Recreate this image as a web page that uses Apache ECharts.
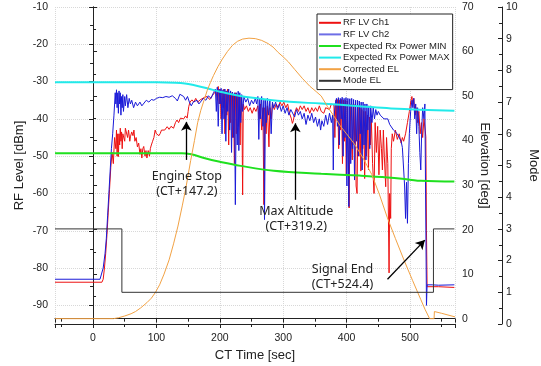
<!DOCTYPE html>
<html>
<head>
<meta charset="utf-8">
<script src="https://cdn.jsdelivr.net/npm/echarts@6/dist/echarts.min.js"></script>
<style>
html,body{margin:0;padding:0;background:#fff;}
#c{width:541px;height:366px;}
</style>
</head>
<body>
<div id="c"></div>
<script>
// ---- DATA ----
const seriesNames = ['RF LV Ch1','RF LV Ch2','Expected Rx Power MIN','Expected Rx Power MAX','Corrected EL','Mode EL'];

const ch1 = [[-60,-83.8],[14,-83.8],[16,-83],[18,-80],[20,-76],[22,-71],[24,-65],[26,-59],[28,-53],[30,-49],[32,-52],[34,-45],[36,-48],[37,-43],[38,-50],[39,-44],[40,-50.1],[41,-44],[42,-47],[43,-42.5],[44,-46],[45,-43.5],[46,-48],[47,-44],[48.5,-43.9],[50,-46],[51,-42.5],[53,-42],[54.5,-45],[56,-43],[58,-46],[59,-44.8],[61,-43.5],[63,-44.5],[64.5,-43],[66,-46],[68,-45],[70,-47.5],[72,-46.5],[74,-49.5],[75.5,-48],[77,-50.5],[78.5,-48],[80,-47.4],[82,-50],[83.5,-48.5],[85,-50.5],[87,-48.5],[89,-50],[90.5,-47.9],[92,-47],[94,-46],[96,-45],[98,-43],[100,-44],[102,-43.5],[104,-44.5],[106,-43.9],[108,-43],[110,-42.5],[113,-43],[117,-42.1],[120,-42.8],[123,-42],[127,-42.5],[130,-41],[132.5,-40.3],[135,-41],[138,-39.8],[140.5,-39.4],[143,-40],[146,-39.2],[148.5,-39.8],[150,-38],[151,-36.7],[153,-35.5],[156,-34.9],[159,-35.5],[162,-34.5],[165,-35.5],[169,-34.9],[172,-35.3],[176,-34.2],[180,-34],[184,-34.8],[188,-33.8],[191,-34],[194,-32.5],[196,-35],[197.5,-31.3],[199,-36],[200.5,-32],[202,-40],[203.5,-32.5],[205,-37],[206.5,-32],[208,-44],[209.5,-32.5],[211,-39],[212.5,-32],[214,-47],[215.5,-33],[217,-41],[218.5,-33],[220,-45],[221.5,-33.5],[223,-52],[224.5,-33],[226,-44],[227.5,-33.5],[229,-42],[230.5,-34],[232,-47],[233.5,-34],[235,-40],[236,-60.4],[237,-36],[239,-37.5],[242,-36.5],[245,-38],[248,-37],[251,-38.5],[254,-37],[257,-38],[260,-36.5],[262,-40],[264,-36],[266,-43],[268,-37],[269.5,-63],[271,-37],[273,-44],[275,-36.5],[277.5,-47.5],[279,-37],[281,-40],[283,-36],[286,-37.5],[289,-36],[292,-37],[295,-35.5],[298,-36.5],[301,-35.5],[304,-37],[307,-36],[310,-38.5],[313,-40],[314.5,-41.2],[316,-40.5],[318,-38.5],[321,-37],[324,-38],[327,-36.5],[330,-37.5],[333,-36.5],[336,-38],[339,-37],[342,-38.5],[345,-37],[348,-38],[351,-37],[354,-38],[357,-36.5],[360,-38],[364,-38.5],[367,-37],[370,-36.5],[373,-37.5],[376,-36],[380,-36.3],[381.5,-45],[383,-35],[384.5,-40],[386,-34.8],[387.5,-48],[389,-35],[390.5,-43],[392,-34.8],[393.5,-52],[395,-35],[396.5,-46],[398,-35],[399.5,-55],[401,-35.2],[402.5,-49],[404,-63.9],[405.5,-36],[407,-44],[409,-51],[410.5,-36],[412,-47],[413.5,-36],[415,-58],[416.5,-60],[418,-36.5],[419.5,-50],[421,-37],[422.5,-54],[424,-37.5],[425.5,-48],[427,-38],[428.5,-56],[430,-38],[431.5,-50],[433,-39],[434.5,-53.7],[436,-39.5],[437.5,-47],[439,-40],[441,-52],[443.3,-60],[445,-41],[447,-49],[449,-42],[451,-55],[453,-43],[455,-48],[456.5,-53.7],[458,-43],[459.5,-50],[461.7,-58.2],[463,-45],[465,-52],[467,-81.3],[468,-60],[469.5,-66.7],[470.5,-48],[472,-44],[474,-46],[477,-43],[480,-45.5],[483,-44],[486,-46.5],[488,-45],[490,-46],[493,-44],[496,-41],[499,-38],[501.5,-35],[503,-34],[504.5,-36],[506,-34.5],[508,-39],[510,-37],[512,-41],[514,-38],[516,-44],[518,-41],[520,-45],[522,-40],[524,-43],[525,-44.8],[526,-70],[527,-85],[530,-85.2],[545,-85],[570,-85.2]];

const ch2 = [[-60,-83.0],[11,-83.0],[13,-82.5],[16,-80],[19,-76],[21,-72],[23,-66],[25,-60],[27,-54],[29,-48],[31,-44],[33,-39],[35,-33],[36,-36],[37,-32.2],[38,-37],[39,-33],[40,-38.5],[41,-32.5],[42,-36],[43,-33],[44,-39],[45,-34],[46,-37],[47,-33.5],[48,-38],[50,-34],[51,-36.5],[53,-33.5],[55,-37],[57,-34.5],[59,-36],[61,-35],[64,-37],[67,-35.5],[70,-36.5],[74,-35.5],[77,-36.5],[80,-36],[84,-35],[88,-35.5],[92,-34.8],[96,-35],[100,-34.5],[105,-34.2],[110,-34.3],[115,-34],[120,-34.2],[125,-33.8],[130,-34.5],[133,-35.2],[137,-33.4],[140,-33.2],[143,-34],[146,-35],[149,-34],[152,-35.5],[155,-36.5],[158,-35.5],[161,-36],[164,-35],[167,-36],[170,-35.5],[174,-34.5],[178,-35],[182,-33.8],[186,-34.5],[190,-33],[193,-32],[194.5,-38],[196,-31.5],[197.5,-42],[199,-32],[200.5,-36],[202,-31.8],[203.5,-44],[205,-32.2],[206.5,-40],[208,-32],[209.5,-46],[211,-32.5],[212.5,-38],[214,-32],[215.5,-43],[217,-32.5],[218.5,-49],[220,-32.8],[221.5,-45],[223,-33],[224.5,-63],[226,-33],[227.5,-47],[229,-32.6],[230,-48.5],[231.5,-33],[233,-41],[234.5,-33.5],[236,-38],[238,-34],[241,-35.5],[244,-34.5],[247,-36.5],[250,-35],[253,-36],[256,-34.5],[258,-36],[260,-34],[261.5,-45.5],[263,-34.5],[264.5,-40],[266,-34],[268,-42],[269.5,-35],[270.5,-67],[272,-35],[273.5,-41],[275,-34.5],[277,-39],[279,-35],[281,-44],[283,-35.5],[285,-37],[288,-35.5],[291,-37.5],[294,-36],[297,-38],[300,-36.5],[303,-38.5],[306,-37],[309,-39],[312,-37.5],[315,-38],[318,-39.5],[321,-37.5],[324,-39],[327,-38],[330,-40],[333,-38.5],[336,-41.5],[339,-39],[342,-40.5],[345,-38.5],[348,-41],[351,-39.5],[354,-42],[357,-40],[359,-43],[361,-40.5],[364,-42],[367,-39],[370,-41.5],[373,-38.5],[376,-41],[378,-39],[379,-53.7],[380,-40],[382,-36],[384,-34.5],[385.5,-42],[387,-34.3],[388.5,-47],[390,-34.5],[391.5,-40],[393,-34.2],[394.5,-50],[396,-34.5],[397.5,-45],[399,-34.3],[400.5,-58],[402,-34.5],[403.5,-63.5],[405,-34.6],[406.5,-52],[408,-34.5],[409.5,-48],[411,-34.8],[412.5,-56.4],[414,-35],[415.5,-46],[417,-35],[418.5,-50],[420,-35.2],[421.5,-44],[423,-35.5],[424.5,-53.7],[426,-35.5],[427.5,-47],[429,-36],[430.5,-51],[432,-36],[433.5,-43],[435,-36.5],[436.5,-48],[438,-36.5],[440,-41],[442,-37],[444,-40],[446,-37.5],[448,-39],[450,-38],[453,-39],[456,-38.5],[459,-40],[462,-40.5],[465,-40],[468,-41.5],[471,-41],[474,-43],[477,-42.5],[480,-44],[483,-44.5],[486,-46],[488,-47.7],[490,-48],[491.5,-58],[493,-66.7],[494.5,-57],[496,-68],[497.5,-52],[499,-44],[501,-38],[503,-35],[504.5,-37],[506,-34.5],[507.5,-40],[509,-36],[510.5,-44],[512,-37],[514,-42],[515.5,-49],[517,-53.7],[518.5,-43],[520,-37],[522,-40],[523.5,-36],[525,-35.5],[526,-90],[527,-84.5],[530,-84],[535,-84.5],[545,-84.6],[570,-84.5]];

const rxMin = [[-60,-49.2],[140,-49.2],[155,-49.5],[175,-50.5],[200,-51.5],[233,-52.6],[285,-53.9],[360,-54.7],[420,-55.2],[465,-55.7],[500,-56.3],[517,-56.6],[570,-56.8]];

const rxMax = [[-60,-30.2],[100,-30.2],[130,-30.3],[145,-30.5],[160,-31],[180,-31.8],[200,-32.7],[230,-33.8],[260,-34.5],[310,-35.4],[360,-35.9],[420,-36.6],[470,-37.2],[570,-37.8]];

const elev = [[-60,0],[32,0],[40,0.2],[50,0.6],[60,1.1],[67,1.6],[75,2.4],[85,3.6],[92,4.6],[98,5.8],[105,7.6],[112,10],[120,13.2],[127,16.8],[134,20.8],[141,25.5],[147,29.8],[154,35.5],[160,40],[165,44],[170,46.8],[175,49],[180,51.2],[185,53],[190,54.6],[197,56.6],[204,58.3],[212,60],[220,61.4],[228,62.3],[236,62.8],[246,63],[256,62.9],[266,62.5],[276,61.8],[284,61],[292,59.8],[300,58.8],[308,57.7],[318,56],[330,54],[342,52.2],[352,51],[360,50],[370,47.6],[380,45.5],[390,43.3],[400,41.5],[412,39.3],[425,36.3],[440,32.3],[452,27.8],[464,22.8],[477,18],[491,13],[504,8.6],[517,4.3],[524,2],[531,0],[538,0],[538.5,1.6],[550,1.2],[571,0.4]];

const modeEl = [[-60,3],[45.5,3],[45.5,1],[537,1],[537,3],[570,3]];

const annotations = [
  {text:'Engine Stop\n(CT+147.2)', at:[148,-57.5], from:[147.2,-51], to:[147.2,-40.8]},
  {text:'Max Altitude\n(CT+319.2)', at:[320.5,-66.8], from:[319.2,-61.7], to:[319.2,-41.2]},
  {text:'Signal End\n(CT+524.4)', at:[393.5,-82.5], from:[464.5,-83], to:[523.4,-72.5]}
];

// ---- CHART ----
const chart = echarts.init(document.getElementById('c'), null, {renderer:'canvas'});
const F = 'Liberation Sans, Arial, sans-serif';
const axisLineStyle = {color:'#222', width:1};

const option = {
  animation:false,
  backgroundColor:'#fff',
  grid:{left:55, right:86, top:7, bottom:42, containLabel:false, outerBoundsMode:'none'},
  graphic:[{
    type:'rect', z:3, silent:true,
    shape:{x:321, y:18, width:131, height:69},
    style:{fill:'#000'}
  }],
  legend:{
    orient:'vertical', left:317, top:14, z:5,
    itemWidth:22, itemHeight:2, itemGap:0,
    padding:[3,3,3,2],
    backgroundColor:'#fff', borderColor:'#222', borderWidth:1,
    textStyle:{fontFamily:F, fontSize:9.5, color:'#222', lineHeight:11.6, padding:[0,0,0,-3]},
    data: seriesNames.map(n=>({name:n, icon:'rect'}))
  },
  xAxis:[{
    type:'value', position:'bottom', min:-60, max:571, splitNumber:6,
    axisLine:{show:true, lineStyle:axisLineStyle},
    axisTick:{show:true, inside:false, length:4, lineStyle:axisLineStyle},
    minorTick:{show:true, splitNumber:2, length:3, lineStyle:{color:'#222'}},
    axisLabel:{fontFamily:F, fontSize:10.5, color:'#222', margin:9, showMinLabel:false, showMaxLabel:false},
    splitLine:{show:true, lineStyle:{color:'#d8d8d8', type:'dotted', width:1}},
    name:'CT Time [sec]', nameLocation:'middle', nameGap:25, nameMoveOverlap:false,
    nameTextStyle:{fontFamily:F, fontSize:13, color:'#222'}
  },{
    type:'value', position:'top', min:-60, max:571, splitNumber:6,
    axisLine:{show:true, lineStyle:axisLineStyle},
    axisTick:{show:true, inside:true, length:4, lineStyle:axisLineStyle},
    minorTick:{show:true, splitNumber:2, length:3, lineStyle:{color:'#222'}},
    axisLabel:{show:false}, splitLine:{show:false}
  }],
  yAxis:[{
    type:'value', position:'left', min:-95, max:-10, splitNumber:8,
    axisLine:{show:true, lineStyle:axisLineStyle},
    axisTick:{show:true, inside:false, length:4, lineStyle:axisLineStyle},
    minorTick:{show:true, splitNumber:2, length:3, lineStyle:{color:'#222'}},
    axisLabel:{fontFamily:F, fontSize:10.5, color:'#222', margin:7, showMinLabel:false},
    splitLine:{show:true, lineStyle:{color:'#d8d8d8', type:'dotted', width:1}},
    name:'RF Level [dBm]', nameLocation:'middle', nameGap:29, nameRotate:90, nameMoveOverlap:false,
    nameTextStyle:{fontFamily:F, fontSize:13, color:'#222'}
  },{
    type:'value', position:'right', offset:0, min:-1.2, max:70, splitNumber:7,
    axisLine:{show:true, lineStyle:axisLineStyle},
    axisTick:{show:true, inside:false, length:4, lineStyle:axisLineStyle},
    minorTick:{show:true, splitNumber:2, length:3, lineStyle:{color:'#222'}},
    axisLabel:{fontFamily:F, fontSize:10.5, color:'#222', margin:7, showMinLabel:false},
    splitLine:{show:false},
    name:'Elevation [deg]', nameLocation:'middle', nameGap:23, nameRotate:-90, nameMoveOverlap:false,
    nameTextStyle:{fontFamily:F, fontSize:13, color:'#222'}
  },{
    type:'value', position:'right', offset:47, min:0, max:10, interval:1,
    axisLine:{show:true, lineStyle:axisLineStyle},
    axisTick:{show:true, inside:true, length:4, lineStyle:axisLineStyle},
    minorTick:{show:true, splitNumber:2, length:3, lineStyle:{color:'#222'}},
    axisLabel:{fontFamily:F, fontSize:10.5, color:'#222', margin:4},
    splitLine:{show:false},
    name:'Mode', nameLocation:'middle', nameGap:25, nameRotate:-90, nameMoveOverlap:false,
    nameTextStyle:{fontFamily:F, fontSize:13, color:'#222'}
  }],
  series:[
    {name:seriesNames[0], type:'line', yAxisIndex:0, data:ch1, showSymbol:false, symbol:'none',
     lineStyle:{color:'#ee1111', width:1}, itemStyle:{color:'#ee1111'}},
    {name:seriesNames[1], type:'line', yAxisIndex:0, data:ch2, showSymbol:false, symbol:'none',
     lineStyle:{color:'#1a1ad8', width:1}, itemStyle:{color:'#6e6ee6'}},
    {name:seriesNames[2], type:'line', yAxisIndex:0, data:rxMin, showSymbol:false, symbol:'none', smooth:0.4,
     lineStyle:{color:'#1fe01f', width:2}, itemStyle:{color:'#1fe01f'}},
    {name:seriesNames[3], type:'line', yAxisIndex:0, data:rxMax, showSymbol:false, symbol:'none', smooth:0.4,
     lineStyle:{color:'#22eaea', width:2}, itemStyle:{color:'#22eaea'}},
    {name:seriesNames[4], type:'line', yAxisIndex:1, data:elev, showSymbol:false, symbol:'none',
     lineStyle:{color:'#f2a244', width:1}, itemStyle:{color:'#f2a244'}},
    {name:seriesNames[5], type:'line', yAxisIndex:2, data:modeEl, showSymbol:false, symbol:'none',
     lineStyle:{color:'#333', width:1}, itemStyle:{color:'#333'}},
    {name:'annot', type:'line', yAxisIndex:0, data:[], showSymbol:false, silent:true,
     markLine:{silent:true, symbol:['none','arrow'], symbolSize:[8,9], animation:false,
       lineStyle:{color:'#000', width:1.3, type:'solid'}, label:{show:false},
       data: annotations.map(a=>[{coord:a.from},{coord:a.to}])},
     markPoint:{silent:true, symbol:'circle', symbolSize:1, itemStyle:{color:'rgba(0,0,0,0)'}, animation:false,
       label:{show:true, position:'inside', color:'#222', fontFamily:'Noto Sans, sans-serif', fontSize:12.5, lineHeight:15,
         formatter: p=>p.name},
       data: annotations.map(a=>({name:a.text, coord:a.at}))}
    }
  ]
};
chart.setOption(option);
</script>
</body>
</html>
